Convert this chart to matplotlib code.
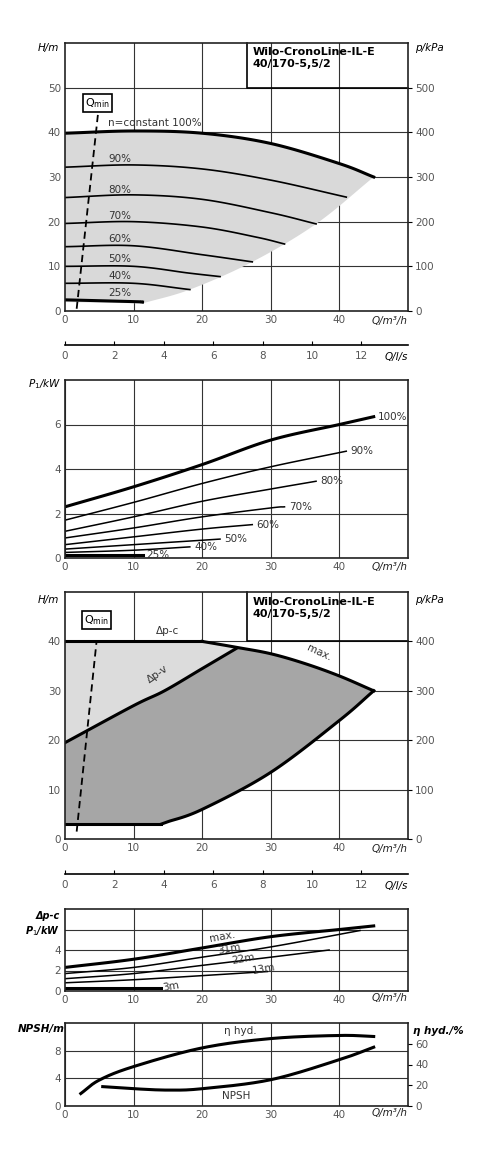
import matplotlib
matplotlib.use("Agg")
import matplotlib.pyplot as plt
import numpy as np

plt.rcParams['font.family'] = ['Liberation Sans Narrow', 'DejaVu Sans']
plt.rcParams['font.size'] = 7.5

W, H = 479, 1166
fig = plt.figure(figsize=(W/100, H/100), dpi=100)

def rect(l, t, r, b):
    return [l/W, 1-b/H, (r-l)/W, (b-t)/H]

# ---------------- data ----------------
q_ticks = [0, 10, 20, 30, 40]
ls_ticks = [0, 2, 4, 6, 8, 10, 12]
speed_labels = ["n=constant 100%", "90%", "80%", "70%", "60%", "50%", "40%", "25%"]
hq_q = [[0, 10, 20, 30, 40, 45], [0, 10, 20, 30, 41], [0, 10, 20, 30, 36.6],
        [0, 10, 20, 28, 32], [0, 10, 20, 27.3], [0, 10, 18, 22.6], [0, 10, 18.2], [0, 10, 11.3]]
hq_h = [[39.8, 40.3, 39.8, 37.5, 33, 30], [32.2, 32.7, 31.8, 29.3, 25.5], [25.4, 26, 25, 22, 19.5],
        [19.6, 20, 18.8, 16.5, 15], [14.4, 14.6, 12.6, 11], [10, 10, 8.5, 7.7], [6.2, 6.2, 4.8], [2.5, 2.1, 2.0]]
hq_lbl_y = [42, 34, 27, 21.3, 16.1, 11.6, 7.8, 4.0]
shade_low_q = [45, 36.6, 27.3, 18.2, 11.3]
shade_low_h = [30, 19.5, 11, 4.8, 1.7]
qmin_q = [1.7, 4.8]
qmin_h = [0.5, 44]

p1_labels = ["100%", "90%", "80%", "70%", "60%", "50%", "40%", "25%"]
p1_q = [[0, 10, 20, 30, 40, 45], [0, 10, 20, 30, 41], [0, 10, 20, 30, 36.6], [0, 10, 20, 30, 32],
        [0, 10, 20, 27.3], [0, 10, 22.6], [0, 10, 18.2], [0, 11.3]]
p1_p = [[2.3, 3.2, 4.2, 5.3, 6.0, 6.35], [1.7, 2.5, 3.35, 4.1, 4.8], [1.2, 1.85, 2.55, 3.1, 3.45],
        [0.9, 1.35, 1.85, 2.25, 2.3], [0.6, 0.95, 1.3, 1.5], [0.4, 0.6, 0.85], [0.25, 0.35, 0.5], [0.15, 0.15]]

dpc_q = [0, 20]; dpc_h = [40, 40]
max_q = [20, 25, 30, 35, 40, 45]; max_h = [40, 38.8, 37.5, 35.5, 33, 30]
dpv_q = [0, 10, 14.5, 20, 25]; dpv_h = [19.5, 27, 30, 34.5, 38.6]
low_q = [45, 40, 30, 20, 15, 14, 0]; low_h = [30, 24, 13.5, 6, 3.5, 3, 3]

p4_labels = ["max.", "31m", "22m", "13m", "3m"]
p4_q = [[0, 10, 20, 30, 40, 45], [0, 10, 20, 30, 43], [0, 10, 20, 30, 38.5], [0, 10, 20, 29.5], [0, 14]]
p4_p = [[2.3, 3.1, 4.2, 5.3, 6.0, 6.35], [1.7, 2.3, 3.3, 4.3, 5.9], [1.2, 1.7, 2.5, 3.3, 4.0],
        [0.8, 1.1, 1.5, 1.9], [0.25, 0.25]]

eta_q = [2.3, 5, 10, 20, 30, 40, 45]; eta_v = [12, 25, 38, 56, 65, 68, 67]
npsh_q = [5.5, 10, 15, 20, 30, 40, 45]; npsh_v = [2.8, 2.5, 2.3, 2.5, 3.8, 6.7, 8.5]

GRID = '#333333'
TXT = '#555555'

def smooth(x, y, n=25):
    """Catmull-Rom spline through the points."""
    P = np.column_stack([np.asarray(x, float), np.asarray(y, float)])
    if len(P) < 3:
        return P[:, 0], P[:, 1]
    ext = np.vstack([2*P[0]-P[1], P, 2*P[-1]-P[-2]])
    out = []
    t = np.linspace(0, 1, n, endpoint=False)[:, None]
    for i in range(1, len(ext)-2):
        p0, p1, p2, p3 = ext[i-1], ext[i], ext[i+1], ext[i+2]
        seg = 0.5*((2*p1) + (-p0+p2)*t + (2*p0-5*p1+4*p2-p3)*t**2 + (-p0+3*p1-3*p2+p3)*t**3)
        out.append(seg)
    out.append(P[-1][None, :])
    out = np.vstack(out)
    return out[:, 0], out[:, 1]

def base(ax, ylim, yticks, xlabel=True):
    ax.set_xlim(0, 50); ax.set_ylim(*ylim)
    ax.set_xticks(q_ticks); ax.set_yticks(yticks)
    ax.grid(True, color=GRID, lw=0.8)
    ax.tick_params(length=0, labelcolor=TXT, labelsize=7.5, pad=3)
    for s in ax.spines.values():
        s.set_linewidth(1.2); s.set_color('#222')
    ax.set_axisbelow(True)
    if xlabel:
        ax.text(1.0, -0.02, "Q/m³/h", transform=ax.transAxes, ha='right', va='top',
                style='italic', fontsize=7.5, color='#222')

def right_axis(ax, ylim, ticks):
    r = ax.twinx(); r.set_ylim(*ylim); r.set_yticks(ticks)
    r.tick_params(length=3, width=0.8, labelcolor=TXT, labelsize=7.5, pad=2)
    for s in r.spines.values():
        s.set_visible(False)
    return r

def ls_axis(y):
    a = fig.add_axes(rect(65, y, 408, y+0.01))
    a.set_xlim(0, 50/3.6); a.set_xticks(ls_ticks); a.set_yticks([])
    for k in ['top', 'left', 'right']:
        a.spines[k].set_visible(False)
    a.spines['bottom'].set_linewidth(1.2)
    a.tick_params(axis='x', direction='in', length=3, labelcolor=TXT, labelsize=7.5, pad=4)
    a.patch.set_alpha(0)
    a.annotate("Q/l/s", xy=(1.0, 0), xycoords='axes fraction', xytext=(0, -5),
               textcoords='offset points', ha='right', va='top', style='italic', fontsize=7.5)

def title_box(ax, ybot):
    ax.plot([26.5, 26.5, 50], [ax.get_ylim()[1], ybot, ybot], color='k', lw=1.2, clip_on=False)
    ax.text(27.3, ax.get_ylim()[1]-1, "Wilo-CronoLine-IL-E\n40/170-5,5/2", ha='left', va='top',
            fontsize=8, fontweight='bold', linespacing=1.25)

def qmin(ax, q, h, box):
    ax.plot(q, h, 'k--', lw=1.3, dashes=(4, 2.5))
    ax.text(box[0], box[1], r"Q$_{\mathregular{min}}$", fontsize=8, ha='center', va='center',
            bbox=dict(boxstyle='square,pad=0.2', fc='white', ec='k', lw=1.2))

def hgrid(ax, xs, ys):
    ax.grid(False)
    for v in xs:
        ax.axvline(v, color=GRID, lw=0.8, zorder=0)
    for v in ys:
        ax.axhline(v, color=GRID, lw=0.8, zorder=0)

# ---------------- panel 1 ----------------
ax1 = fig.add_axes(rect(65, 43, 408, 311))
base(ax1, (0, 60), [0, 10, 20, 30, 40, 50])
hgrid(ax1, [10, 20, 30, 40], [10, 20, 30, 40, 50])
tq, th = smooth(hq_q[0], hq_h[0])
lq, lh = smooth(shade_low_q, shade_low_h)
ax1.fill(np.concatenate([tq, lq, [0]]), np.concatenate([th, lh, [2.0]]),
         color='#d9d9d9', zorder=0.5, lw=0)
for i, (q, h) in enumerate(zip(hq_q, hq_h)):
    x, y = smooth(q, h)
    ax1.plot(x, y, 'k', lw=2.2 if i in (0, 7) else 1.2, zorder=2)
    ax1.text(6.3, hq_lbl_y[i], speed_labels[i], fontsize=7.5, color='#333', ha='left', va='center')
qmin(ax1, qmin_q, qmin_h, (4.7, 46.5))
title_box(ax1, 50)
right_axis(ax1, (0, 600), [0, 100, 200, 300, 400, 500])
fig.text(38/W, 1-48/H, "H/m", style='italic', fontsize=7.5, ha='left', va='center')
fig.text(415/W, 1-48/H, "p/kPa", style='italic', fontsize=7.5, ha='left', va='center')
ls_axis(345)

# ---------------- panel 2 ----------------
ax2 = fig.add_axes(rect(65, 380, 408, 558))
base(ax2, (0, 8), [0, 2, 4, 6])
for i, (q, p) in enumerate(zip(p1_q, p1_p)):
    x, y = smooth(q, p)
    ax2.plot(x, y, 'k', lw=2.2 if i in (0, 7) else 1.1)
    ax2.text(q[-1]+0.6, p[-1], p1_labels[i], fontsize=7.5, color='#333', ha='left', va='center')
fig.text(28/W, 1-384/H, "P$_1$/kW", style='italic', fontsize=7.5, ha='left', va='center')

# ---------------- panel 3 ----------------
ax3 = fig.add_axes(rect(65, 592, 408, 839))
base(ax3, (0, 50), [0, 10, 20, 30, 40])
hgrid(ax3, [10, 20, 30, 40], [10, 20, 30, 40])
mx, my = smooth(max_q, max_h)
vx, vy = smooth(dpv_q, dpv_h)
ax3.fill(np.concatenate([[0], vx, [25, 20, 0]]), np.concatenate([[40], vy, [38.8, 40, 40]]),
         color='#dcdcdc', lw=0, zorder=0.5)
lx, ly = smooth(low_q[:6], low_h[:6])
sel = mx >= 25
ax3.fill(np.concatenate([vx, mx[sel], lx, [0]]),
         np.concatenate([vy, my[sel], ly, [3]]), color='#a6a6a6', lw=0, zorder=0.6)
ax3.plot(dpc_q, dpc_h, 'k', lw=2.2)
ax3.plot(mx, my, 'k', lw=2.2)
ax3.plot(vx, vy, 'k', lw=2.2)
ax3.plot(lx, ly, 'k', lw=2.2)
ax3.plot(low_q[-2:], low_h[-2:], 'k', lw=2.2)
ax3.text(15, 41.5, "Δp-c", fontsize=7.5, color='#333', ha='center')
ax3.text(13.5, 31.5, "Δp-v", fontsize=7.5, color='#333', ha='center', rotation=35)
ax3.text(37, 36, "max.", fontsize=7.5, color='#333', ha='center', rotation=-25)
qmin(ax3, [1.7, 4.6], [1.5, 40], (4.6, 44.3))
title_box(ax3, 40)
right_axis(ax3, (0, 500), [0, 100, 200, 300, 400])
fig.text(38/W, 1-600/H, "H/m", style='italic', fontsize=7.5, ha='left', va='center')
fig.text(415/W, 1-600/H, "p/kPa", style='italic', fontsize=7.5, ha='left', va='center')
ls_axis(874)

# ---------------- panel 4 ----------------
ax4 = fig.add_axes(rect(65, 909, 408, 991))
base(ax4, (0, 8), [0, 2, 4])
hgrid(ax4, [10, 20, 30, 40], [2, 4, 6])
for i, (q, p) in enumerate(zip(p4_q, p4_p)):
    x, y = smooth(q, p)
    ax4.plot(x, y, 'k', lw=2.2 if i in (0, 4) else 1.1)
lblpos = [(23, 5.3), (24, 4.05), (26, 3.1), (29, 2.1), (15.5, 0.4)]
for t, (x, y) in zip(p4_labels, lblpos):
    ax4.text(x, y, t, fontsize=7.5, color='#333', ha='center', va='center', rotation=10)
fig.text(60/W, 1-911/H, "Δp-c\nP$_1$/kW", style='italic', fontsize=7, ha='right', va='top',
         fontweight='bold', linespacing=1.3)

# ---------------- panel 5 ----------------
ax5 = fig.add_axes(rect(65, 1023, 408, 1106))
base(ax5, (0, 12), [0, 4, 8])
x, y = smooth(npsh_q, npsh_v)
ax5.plot(x, y, 'k', lw=2.2)
r5 = right_axis(ax5, (0, 80), [0, 20, 40, 60])
x, y = smooth(eta_q, eta_v)
r5.plot(x, y, 'k', lw=2.2)
ax5.text(25.5, 10.8, "η hyd.", fontsize=7.5, color='#333', ha='center', va='center')
ax5.text(25, 1.5, "NPSH", fontsize=7.5, color='#333', ha='center', va='center')
fig.text(18/W, 1-1029/H, "NPSH/m", style='italic', fontsize=7.5, fontweight='bold', ha='left', va='center')
fig.text(413/W, 1-1031/H, "η hyd./%", style='italic', fontsize=7.5, fontweight='bold', ha='left', va='center')

fig.savefig("out.png", dpi=100)
